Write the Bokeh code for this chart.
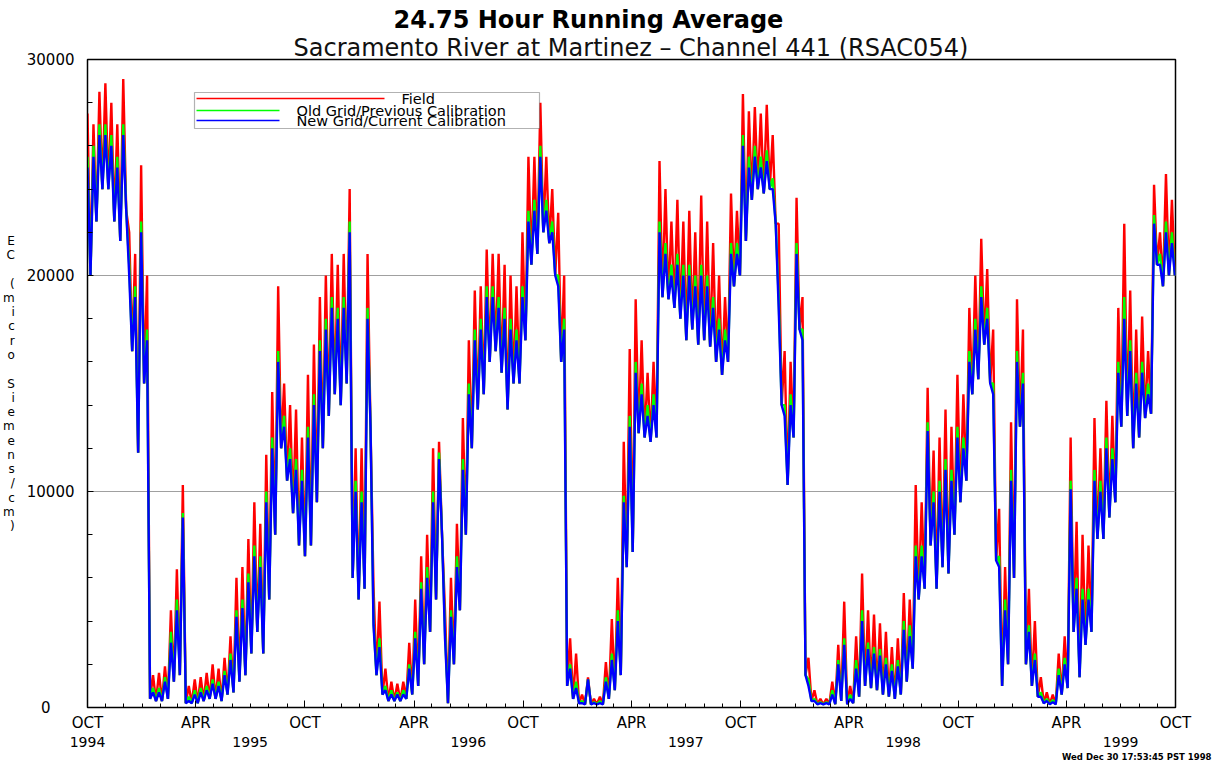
import numpy as np
import pandas as pd
from bokeh.plotting import figure
from bokeh.models import Range1d, FixedTicker, Label, BoxAnnotation, Title, DatetimeAxis
from bokeh.embed import file_html
from bokeh.resources import INLINE

# ---------------- data ----------------
start_date = "1994-10-01"
end_date = "1999-10-01"
step_days = 10  # one reading of high / low per 10-day period

field_hi = [
    27500, 27000, 28500, 28900, 28000, 27000, 29100, 22000, 21000, 25100,
    20000, 1500, 1600, 1900, 4500, 6400, 10300, 1000, 1300, 1400,
    1600, 2000, 1800, 2300, 3300, 6000, 6500, 7800, 9500, 8500,
    11700, 14600, 19500, 15000, 14000, 13800, 12500, 15400, 16800, 19000,
    20000, 21000, 20500, 21000, 24000, 12000, 12000, 21000, 5600, 4900,
    1800, 1200, 1100, 1200, 3000, 5000, 7000, 8000, 12000, 12300,
    4500, 6000, 8500, 13400, 17000, 19300, 19500, 21200, 21000, 21000,
    20500, 20000, 19500, 22000, 25500, 25500, 28000, 25500, 24000, 22900,
    20000, 3200, 2500, 600, 1400, 400, 500, 2100, 4100, 6000,
    12300, 16600, 18900, 17000, 15500, 16000, 25300, 24000, 22500, 23500,
    22500, 23000, 22000, 23700, 22500, 21500, 20000, 19000, 23800, 23000,
    28400, 27600, 27800, 27500, 27900, 26500, 22400, 16500, 16000, 23600,
    19000, 2300, 800, 400, 400, 1200, 2900, 4900, 1000, 3300,
    6200, 4500, 4300, 3900, 3500, 2800, 3200, 5300, 5000, 10300,
    9500, 14800, 11900, 12500, 13800, 13000, 15400, 14500, 18500, 20000,
    21700, 20300, 17500, 9200, 6500, 13200, 18900, 17500, 5500, 4000,
    1400, 700, 600, 2500, 3300, 12500, 8600, 8000, 7500, 13400,
    12000, 14200, 13500, 18500, 22400, 19300, 17500, 18100, 16500, 24200,
    22000, 24700, 23500,
]

old_hi = [
    25500, 26000, 27000, 27000, 26500, 25500, 27000, 20500, 19500, 22500,
    17500, 900, 900, 1400, 3500, 5000, 9000, 500, 800, 900,
    1000, 1300, 1200, 1700, 2500, 4500, 5000, 6200, 7500, 7000,
    10000, 12500, 16500, 13500, 12000, 11500, 11000, 13000, 14500, 17000,
    18000, 19000, 18500, 19000, 22500, 10500, 10000, 18500, 4000, 3200,
    1000, 800, 700, 800, 2000, 3500, 5800, 6500, 10000, 11800,
    3500, 4500, 7000, 11500, 15000, 17500, 18000, 19500, 19500, 19000,
    18500, 18000, 17500, 19500, 23000, 23500, 26000, 23500, 22500, 20000,
    18000, 2000, 1200, 300, 1300, 250, 300, 1400, 2500, 4500,
    9800, 13500, 16000, 15000, 14000, 14500, 22500, 21500, 20500, 21000,
    20500, 20500, 20000, 20500, 20000, 19000, 18000, 17500, 21500, 21500,
    26500, 25500, 26000, 25500, 25800, 24500, 19000, 14000, 14500, 21500,
    17500, 1300, 400, 250, 250, 800, 2200, 3200, 600, 2200,
    4500, 3000, 2800, 2700, 2300, 2000, 2200, 4000, 3800, 7500,
    7500, 13200, 10000, 10500, 11500, 11000, 13000, 12500, 16500, 18000,
    19500, 18500, 15000, 7000, 5000, 11000, 16500, 15500, 3800, 2500,
    700, 400, 350, 1800, 2300, 10500, 6000, 5500, 5500, 11000,
    10500, 12500, 12000, 16000, 19000, 17000, 15500, 16000, 15000, 22800,
    21000, 22500, 22000,
]

new_hi = [
    25000, 25500, 26500, 26500, 26000, 25000, 26500, 20000, 19000, 22000,
    17000, 700, 700, 1200, 3000, 4500, 8800, 300, 600, 700,
    800, 1100, 1000, 1500, 2200, 4200, 4600, 5800, 7000, 6500,
    9500, 12000, 16000, 13000, 11500, 11000, 10500, 12500, 14000, 16500,
    17500, 18500, 18000, 18500, 22000, 10000, 9500, 18000, 3800, 2800,
    800, 600, 600, 600, 1800, 3200, 5500, 6000, 9500, 11500,
    3200, 4200, 6500, 11000, 14500, 17000, 17500, 19000, 19000, 18500,
    18000, 17500, 17000, 19000, 22500, 23000, 25500, 23000, 22000, 19500,
    17500, 1800, 900, 200, 1300, 200, 200, 1200, 2200, 4000,
    9500, 13000, 15500, 14500, 13500, 14000, 22000, 21000, 20000, 20500,
    20000, 20000, 19500, 20000, 19500, 18500, 17500, 17000, 21000, 21000,
    26000, 25000, 25500, 25000, 25300, 24000, 18500, 13500, 14000, 21000,
    17000, 1000, 300, 200, 200, 600, 2000, 2900, 400, 1800,
    4000, 2700, 2500, 2400, 2000, 1700, 1900, 3600, 3300, 7000,
    7000, 12800, 9500, 10000, 11000, 10500, 12500, 12000, 16000, 17500,
    19000, 18000, 14500, 6500, 4500, 10500, 16000, 15000, 3500, 2200,
    500, 300, 250, 1500, 2000, 10100, 5500, 5000, 5000, 10500,
    10000, 12000, 11500, 15500, 18000, 16500, 15000, 15500, 14500, 22400,
    20500, 22000, 21500,
]

new_lo = [
    20000, 22500, 24000, 24000, 22500, 21600, 23000, 16500, 11800, 15000,
    400, 300, 300, 400, 1200, 1500, 200, 200, 200, 300,
    400, 400, 300, 600, 700, 1200, 1500, 2500, 3500, 2500,
    5000, 8000, 12000, 10500, 9000, 7500, 7000, 7500, 9500, 12000,
    13500, 14500, 14000, 15000, 6000, 5000, 5500, 13000, 1500, 600,
    300, 300, 300, 400, 600, 1000, 2000, 3500, 5000, 8000,
    200, 2000, 4500, 8000, 12000, 13800, 14500, 16000, 16500, 15500,
    13800, 15000, 15000, 17000, 20500, 21000, 22000, 21500, 20000, 16000,
    1000, 400, 200, 150, 150, 150, 150, 400, 800, 1500,
    6500, 7200, 12700, 12500, 12300, 12500, 19000, 18900, 18500, 18000,
    17000, 17500, 16800, 17000, 16700, 16000, 15400, 16000, 19500, 20000,
    21600, 23500, 24000, 23800, 24000, 22400, 14000, 10300, 12500, 17500,
    1500, 300, 150, 150, 150, 150, 300, 150, 200, 500,
    1000, 900, 800, 600, 500, 400, 600, 1200, 1800, 5000,
    5500, 7500, 5500, 6500, 6200, 8000, 9500, 10500, 14500, 15200,
    16800, 15000, 6800, 1000, 2000, 6000, 13000, 2000, 1000, 500,
    200, 150, 150, 600, 900, 3500, 1400, 2900, 3500, 7800,
    7800, 8800, 9500, 13000, 13500, 12000, 12500, 13400, 13600, 20500,
    19500, 20000, 20000,
]

series_names = ["Field", "Old Grid/Previous Calibration", "New Grid/Current Calibration"]
series_colors = ["#ff0000", "#00ff00", "#0000ff"]

y_ticks = [0, 10000, 20000, 30000]
y_tick_labels = ["0", "10000", "20000", "30000"]
y_grid_values = [10000, 20000]
month_names = {4: "APR", 10: "OCT"}
years = [1994, 1995, 1996, 1997, 1998, 1999]

title_text = "24.75 Hour Running Average"
subtitle_text = "Sacramento River at Martinez \u2013 Channel 441 (RSAC054)"
y_title_text = "EC (micro Siemens/cm)"
stamp_text = "Wed Dec 30 17:53:45 PST 1998"

FONT = "DejaVu Sans"

# ---------------- build zig-zag traces ----------------
n = len(new_hi)
t0 = pd.Timestamp(start_date)
t_hi = t0 + pd.to_timedelta(np.arange(n) * step_days, unit="D")
t_lo = t_hi + pd.Timedelta(days=step_days / 2)
xs = np.empty(2 * n, dtype="datetime64[ns]")
xs[0::2] = t_hi.values
xs[1::2] = t_lo.values


def zig(hi, lo):
    arr = np.empty(2 * n)
    arr[0::2] = hi
    arr[1::2] = lo
    return arr


traces = [zig(field_hi, new_lo), zig(old_hi, new_lo), zig(new_hi, new_lo)]


def ms(ts):
    return pd.Timestamp(ts).value / 1e6


x_start = pd.Timestamp(start_date)
x_end = pd.Timestamp(end_date)

# ---------------- figure ----------------
p = figure(
    x_axis_type="datetime",
    output_backend="svg",
    toolbar_location=None,
    frame_width=1088,
    frame_height=648,
    min_border_left=86,
    min_border_right=44,
    min_border_top=59,
    min_border_bottom=51,
    x_range=Range1d(x_start, x_end),
    y_range=Range1d(0, 30000),
    background_fill_color="white",
    border_fill_color="white",
)
p.outline_line_color = "black"
p.outline_line_width = 1.5

for ys, col in zip(traces, series_colors):
    p.line(xs, ys, line_color=col, line_width=2.4)

# titles (subtitle added first: sits nearest the frame)
p.add_layout(Title(text=subtitle_text, align="left", offset=206, standoff=-4,
                   text_font=FONT, text_font_style="normal", text_font_size="24px",
                   text_color="#111111"), "above")
p.add_layout(Title(text=title_text, align="left", offset=306, standoff=0,
                   text_font=FONT, text_font_style="bold", text_font_size="24px",
                   text_color="black"), "above")

# x axis ticks
months = pd.date_range(x_start, x_end, freq="MS")
major = [m for m in months if m.month in month_names]
p.xaxis.ticker = FixedTicker(ticks=[ms(m) for m in major], minor_ticks=[ms(m) for m in months])
p.xaxis.major_label_overrides = {ms(m): month_names[m.month] for m in major}
p.xaxis.major_label_text_font = FONT
p.xaxis.major_label_text_font_size = "15px"
p.xaxis.major_label_text_color = "black"
p.xaxis.major_label_standoff = 6
p.xaxis.major_tick_in = 7
p.xaxis.major_tick_out = 0
p.xaxis.minor_tick_in = 4
p.xaxis.minor_tick_out = 0
p.xaxis.axis_line_color = "black"
p.xaxis.major_tick_line_color = "black"
p.xaxis.minor_tick_line_color = "black"

# second row of x labels: the years
year_pos = [max(pd.Timestamp(yr, 7, 1), x_start) for yr in years]
year_axis = DatetimeAxis(
    ticker=FixedTicker(ticks=[ms(d) for d in year_pos]),
    major_label_overrides={ms(d): str(yr) for d, yr in zip(year_pos, years)},
    axis_line_color=None, major_tick_line_color=None, minor_tick_line_color=None,
    major_tick_in=0, major_tick_out=0, minor_tick_in=0, minor_tick_out=0,
    major_label_standoff=2, major_label_text_font=FONT,
    major_label_text_font_size="14px", major_label_text_color="black",
)
p.add_layout(year_axis, "below")

# time stamp at the bottom right
p.add_layout(Title(text=stamp_text, align="right", offset=-36, standoff=0,
                   text_font=FONT, text_font_style="bold", text_font_size="8.5px",
                   text_color="black"), "below")

# y axis
nbsp = "\u00a0"
p.yaxis.ticker = FixedTicker(ticks=y_ticks, minor_ticks=list(range(0, 30001, 2000)))
p.yaxis.major_label_overrides = {0: y_tick_labels[0] + nbsp * 5}
p.yaxis.major_label_text_font = FONT
p.yaxis.major_label_text_font_size = "15px"
p.yaxis.major_label_text_color = "black"
p.yaxis.major_label_standoff = 13
p.yaxis.major_tick_in = 6
p.yaxis.major_tick_out = 0
p.yaxis.minor_tick_in = 5
p.yaxis.minor_tick_out = 0
p.yaxis.axis_line_color = "black"
p.yaxis.major_tick_line_color = "black"
p.yaxis.minor_tick_line_color = "black"
p.yaxis.axis_label = "\n".join(y_title_text)
p.yaxis.axis_label_orientation = "horizontal"
p.yaxis.axis_label_text_font = FONT
p.yaxis.axis_label_text_font_style = "normal"
p.yaxis.axis_label_text_font_size = "12px"
p.yaxis.axis_label_text_line_height = 1.02
p.yaxis.axis_label_standoff = 9
p.yaxis.axis_label_text_color = "black"

p.xgrid.visible = False
p.ygrid.ticker = FixedTicker(ticks=y_grid_values)
p.ygrid.grid_line_color = "#a0a0a0"
p.ygrid.grid_line_width = 1

# legend box
p.add_layout(BoxAnnotation(left=107, right=452, bottom=579, top=615,
                           left_units="screen", right_units="screen",
                           bottom_units="screen", top_units="screen",
                           fill_color="white", fill_alpha=1.0,
                           line_color="black", line_width=1.2))
legend_rows = [
    (series_names[0], series_colors[0], 297, 609, 314),
    (series_names[1], series_colors[1], 192, 597, 209),
    (series_names[2], series_colors[2], 192, 587, 209),
]
for name, col, line_end, yy, tx in legend_rows:
    p.add_layout(BoxAnnotation(left=109, right=line_end, bottom=yy - 0.75, top=yy + 0.75,
                               left_units="screen", right_units="screen",
                               bottom_units="screen", top_units="screen",
                               fill_color=col, fill_alpha=1.0, line_color=None))
    p.add_layout(Label(x=tx, y=yy, x_units="screen", y_units="screen", text=name,
                       text_align="left", text_baseline="middle",
                       text_font=FONT, text_font_size="14.5px", text_color="black"))

open("out.html", "w").write(file_html(p, INLINE))
